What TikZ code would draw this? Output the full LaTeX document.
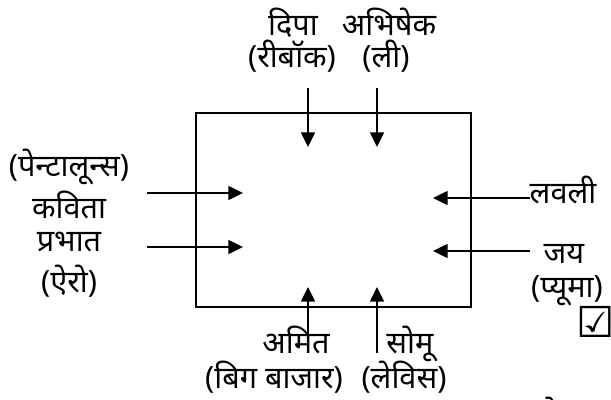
\documentclass[tikz,border=0pt]{standalone}
\usepackage{fontspec}
\setmainfont[Script=Devanagari]{Noto Sans}
\newfontfamily\symfont{DejaVu Sans}
\usetikzlibrary{arrows.meta}

\begin{document}
\begin{tikzpicture}[x=0.75pt,y=-0.75pt,
  txt/.style={font=\fontsize{23}{27}\selectfont,inner sep=0pt,anchor=base},
  pointer/.style={line width=1.1pt,-{Triangle[length=11pt,width=10.5pt]}}]
\useasboundingbox (0,0) rectangle (611,400);
\node[draw,line width=2.2pt,minimum width=206.25pt,minimum height=145.5pt] (store) at (333.5,210) {};
\node[txt] (dipa) at (293,35) {दिपा};
\node[txt] (reebok) at (292,67) {(रीबॉक)};
\node[txt] (abhishek) at (389,35) {अभिषेक};
\node[txt] (lee) at (386,67) {(ली)};
\node[txt] (pantaloons) at (69,176) {(पेन्टालून्स)};
\node[txt] (kavita) at (69,218) {कविता};
\node[txt] (prabhat) at (69,251) {प्रभात};
\node[txt] (arrow) at (69,292) {(ऐरो)};
\node[txt] (lovely) at (563,203) {लवली};
\node[txt] (jay) at (564,263) {जय};
\node[txt] (puma) at (567,297) {(प्यूमा)};
\node[txt] (amit) at (296,353) {अमित};
\node[txt] (bigbazaar) at (274,388) {(बिग बाजार)};
\node[txt] (somu) at (410,353) {सोमू};
\node[txt] (levis) at (404,388) {(लेविस)};
\node[font=\symfont\bfseries\fontsize{32}{36}\selectfont,inner sep=0pt] (tick) at (596,322) {☑};
\node[txt,anchor=base west] (lekh) at (537,424) {लेख};
\coordinate (dipaS) at (308,88);   \coordinate (dipaE) at (308,147);
\coordinate (leeS) at (377,88);    \coordinate (leeE) at (377,147);
\coordinate (kavS) at (147,193);   \coordinate (kavE) at (243,193);
\coordinate (praS) at (147,247);   \coordinate (praE) at (243,247);
\coordinate (lovS) at (530,198);   \coordinate (lovE) at (433,198);
\coordinate (jayS) at (530,251);   \coordinate (jayE) at (433,251);
\coordinate (amiS) at (308,353);   \coordinate (amiE) at (308,287);
\coordinate (somS) at (377,353);   \coordinate (somE) at (377,287);
\draw[pointer] (dipaS) -- (dipaE);
\draw[pointer] (leeS) -- (leeE);
\draw[pointer] (kavS) -- (kavE);
\draw[pointer] (praS) -- (praE);
\draw[pointer] (lovS) -- (lovE);
\draw[pointer] (jayS) -- (jayE);
\draw[pointer] (amiS) -- (amiE);
\draw[pointer] (somS) -- (somE);
\end{tikzpicture}
\end{document}
